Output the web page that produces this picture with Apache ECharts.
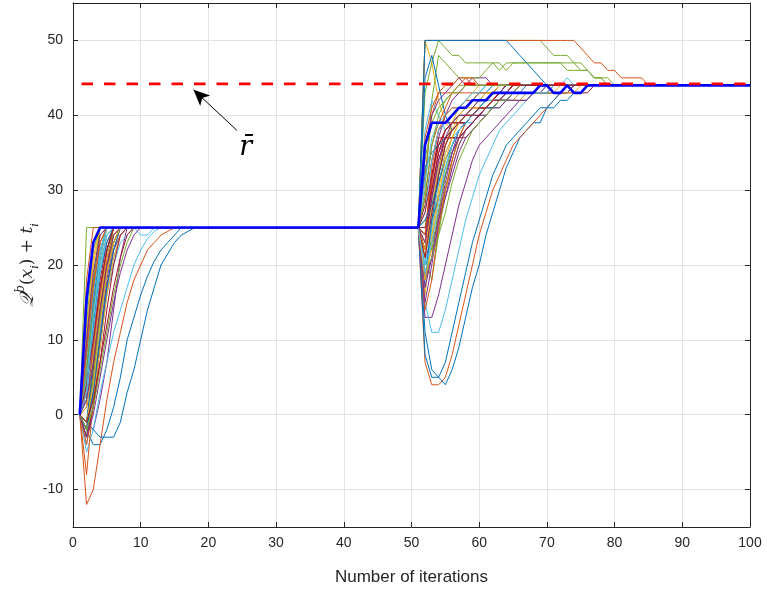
<!DOCTYPE html>
<html><head><meta charset="utf-8">
<script src="https://cdn.jsdelivr.net/npm/echarts@6/dist/echarts.min.js"></script>
<style>html,body{margin:0;padding:0;background:#fff}#c{width:767px;height:592px}</style>
</head><body><div id="c"></div>
<script>
// ---- data ----
const xTicks = [0,10,20,30,40,50,60,70,80,90,100];
const yTicks = [-10,0,10,20,30,40,50];
const rbar = 44.2;
// thick blue line: phase 1 values from x=1, phase 2 values from x=51
const mainPhase1 = [0,15.5,23,25];
const mainPhase2 = [25,36,39,39,39,40,41,41,42,42,42,43,43,43,43,43,43,43,44,44,43,43,44,43,43,44];
// thin lines, phase 1 (from x=1) and phase 2 (from x=51)
const phase1Lines = [
 [0,-2,-4,-4,-2,1,5,10,13,16,18.5,20.5,22,23,24,25],
 [0,-12,-10,-4,2,7,11,15,18,20,22,23,24,24.5,25],
 [0,10,20,25],
 [0,-1,-2,2,7,14,21,25],
 [0,25],
 [0,-5,-2,3,7,11,14,17,20,22,23.5,24.5,25],
 [0,6,16,23,25],
 [0,-1,-2,-3,-3,-3,-1,3,6,10,14,17,20,21.5,23,24,24.5,25],
 [0,-8,2,12,20,25],
 [0,4,13,21,25],
 [0,-2,4,11,18,23,25],
 [0,12,22,25],
 [0,-1,5,11,16,20,23,24,25,24,24,25],
 [0,3,11,18,23,25],
 [0,-3,3,12,19,24,25],
 [0,18,25],
 [0,7,17,23,25],
 [0,1,9,17,22,25],
 [0,-3,5,14,21,25],
 [0,-4,2,9,16,21,24,25],
 [0,9,18,24,25],
 [0,14,23,25],
 [0,2,10,17,22,25],
 [0,-1,6,14,20,24,25],
 [0,5,14,21,25],
 [0,8,18,25],
 [0,-2,4,12,19,23,25],
 [0,2,8,15,21,24,25],
 [0,6,15,22,25],
 [0,-4,1,9,17,22,25],
 [0,11,21,25],
 [0,-1,3,10,17,22,24,25],
 [0,4,12,20,24,25],
 [0,7,16,22,25],
 [0,-2,6,14,20,23,25],
 [0,3,12,19,23,25],
 [0,1,7,13,19,23,25],
 [0,-2,2,9,16,21,24,25],
 [0,10,19,24,25],
 [0,-1,5,13,19,23,25],
 [0,5,13,20,24,25],
 [0,-3,1,7,14,20,24,25],
 [0,-1,7,16,22,25],
 [0,3,9,16,22,25],
 [0,1,8,15,21,24,25],
 [0,-3,0,5,10,15,19,22,24,25],
 [0,6,14,21,25],
 [0,2,11,19,24,25],
 [0,4,10,17,22,25],
 [0,-2,3,10,17,22,25],
 [0,8,17,23,25],
 [0,-1,4,12,19,23,25],
 [0,2,7,14,20,24,25],
 [0,-2,1,6,11,16,20,23,25],
 [0,3,13,21,25],
 [0,-1,2,7,12,17,21,24,25]
];
const phase2Lines = [
 [25,11,6,5,4,6,9,13,17,20,24,27,30,33,35,37,38,39,39,41,41,42,42,43,43,44],
 [25,7,4,4,5,8,12,16,20,24,27,30,32,34,36,37,38,39,40,41,42,43,43,44],
 [25,50,47,42,39,38,39,40,41,41,42,43,43,44],
 [25,13,13,16,20,24,28,31,34,36,37,38,39,40,41,42,42,43,44],
 [25,50,50,50,50,50,50,50,50,50,50,50,50,50,50,50,50,50,50,49,48,48,48,47,46,46,45,45,45,44],
 [25,15,11,11,14,18,22,26,29,32,34,36,38,39,40,41,42,43,44,44,44,44,45,44],
 [25,22,28,33,37,37,37,37,38,39,40,41,42,43,44],
 [25,8,5,5,7,11,15,19,23,26,29,32,34,36,37,38,39,40,41,41,42,43,43,44],
 [25,50,50,50,50,50,50,50,50,50,50,50,50,50,50,50,50,50,50,50,50,50,50,50,49,48,47,47,46,46,45,45,45,45,44],
 [25,22,24,27,30,33,36,38,39,40,41,42,42,43,43,44],
 [25,22,31,37,40,42,43,44,45,45,45,44],
 [25,43,47,50,49,48,48,47,47,47,47,47,47,46,47,47,47,47,47,47,47,47,46,46,46,46,45,45,44],
 [25,20,25,29,33,36,38,39,40,40,41,41,42,42,42,43,43,43,43,44],
 [25,24,32,37,37,37,37,38,39,40,41,42,43,44],
 [25,50,50,50,50,50,50,50,50,50,50,50,50,50,49,48,47,46,45,44],
 [25,32,40,43,43,43,43,43,43,43,43,43,43,44],
 [25,19,22,26,30,34,37,38,39,40,40,41,41,42,42,43,43,43,44],
 [25,21,23,26,29,32,35,37,38,39,40,41,42,43,43,44],
 [25,30,42,48,47,46,45,45,45,45,46,47,46,47,47,47,47,47,47,47,47,47,47,47,47,46,45,45,44],
 [25,17,25,31,35,37,38,39,39,40,40,41,41,42,42,42,43,43,43,43,44],
 [25,28,34,38,39,39,39,39,40,41,41,42,43,43,44],
 [25,45,48,44,40,38,39,40,41,42,43,44],
 [25,23,31,36,38,39,39,40,41,42,42,43,43,44,44],
 [25,16,24,30,35,37,39,40,40,41,41,41,42,42,42,42,43,43,43,43,43,44],
 [25,18,21,25,29,33,36,38,39,40,41,41,42,42,43,43,43,43,43,43,44],
 [25,21,18,24,30,34,37,39,40,41,42,43,44],
 [25,38,42,40,38,39,40,41,42,43,44],
 [25,25,30,35,38,39,40,40,41,41,42,42,42,42,43,43,43,43,43,43,43,43,43,43,43,43,44],
 [25,24,26,29,32,35,37,38,39,40,41,41,42,42,43,43,44],
 [25,14,18,25,30,34,37,39,40,41,42,43,44],
 [25,23,27,32,36,39,41,42,43,44],
 [25,17,21,27,32,35,37,38,39,40,40,41,41,42,42,42,42,43,43,43,43,43,43,44],
 [25,34,39,41,42,43,43,44],
 [25,20,28,33,36,38,39,40,40,41,41,42,42,42,43,43,43,43,44],
 [25,22,29,34,37,37,37,38,39,40,41,42,43,44],
 [25,33,35,36,37,38,39,39,40,41,42,43,43,44],
 [25,29,36,39,41,43,44,45,45,44],
 [25,21,26,32,36,38,39,40,41,41,42,42,43,43,43,43,43,43,44],
 [25,36,40,42,43,44,45,44],
 [25,26,22,27,32,36,38,39,40,41,42,43,44],
 [25,31,37,39,40,41,41,42,42,43,43,44],
 [25,24,30,35,37,38,39,39,40,40,41,42,43,43,44],
 [25,18,26,32,36,38,39,40,40,41,41,42,42,43,43,43,43,43,43,43,43,43,44],
 [25,24,33,38,40,41,41,42,42,43,43,43,44],
 [25,22,28,33,36,38,40,41,41,42,43,43,44],
 [25,15,20,26,31,35,38,39,40,41,41,42,42,42,43,43,43,43,43,44],
 [25,19,21,24,27,31,34,36,38,39,40,41,42,42,43,44],
 [25,27,34,38,39,40,41,42,43,43,44],
 [25,21,27,32,36,38,39,39,40,41,41,42,43,44],
 [25,26,28,31,34,36,38,39,40,41,42,43,43,44,44],
 [25,37,41,43,44,44,45,45,44],
 [25,18,23,29,34,37,39,40,40,41,41,42,42,43,43,43,43,43,43,43,43,43,43,43,44],
 [25,23,29,34,37,39,40,40,41,42,42,43,43,44],
 [25,29,36,40,42,43,44],
 [25,19,23,28,33,36,38,39,40,41,42,42,42,43,43,43,43,43,43,43,44],
 [25,27,32,36,38,39,39,40,40,41,41,42,42,43,44]
];
const lineColors = ['#0072BD','#D95319','#EDB120','#7E2F8E','#77AC30','#4DBEEE','#A2142F'];
const xEnd = 100;
const phase2Start = 51;

function build(p1, p2){
  const d = [];
  p1.forEach((y,k)=>d.push([1+k,y]));
  p2.forEach((y,k)=>d.push([phase2Start+k,y]));
  d.push([xEnd, p2[p2.length-1]]);
  return d;
}

const series = [];
phase1Lines.forEach((p1,i)=>{
  series.push({type:'line', data: build(p1, phase2Lines[i]), symbol:'none', silent:true,
    lineStyle:{width:1, color: lineColors[i%7]}, z:2});
});
series.push({type:'line', data: build(mainPhase1, mainPhase2), symbol:'none', silent:true,
  lineStyle:{width:2.6, color:'#0000FF'}, z:3});
series.push({type:'line', data: [[0,rbar],[xEnd,rbar]], symbol:'none', silent:true, z:4,
  lineStyle:{width:2.6, color:'#FF0000', type:[11.5,11], dashOffset:14},
  markLine:{silent:true, symbol:['none','arrow'], symbolSize:[11,16], animation:false,
    lineStyle:{color:'#000', width:1, type:'solid'}, label:{show:false},
    data:[[{coord:[24.2,38]},{coord:[17.8,43.4]}]]},
  markPoint:{silent:true, symbol:'circle', symbolSize:1, itemStyle:{color:'rgba(0,0,0,0)'},
    label:{show:true, formatter:'r\u0304', position:'inside', color:'#000', fontSize:27, fontStyle:'italic', fontFamily:'DejaVu Serif'},
    data:[{coord:[25.5,35.6]}]}
});

const axCol = '#262626';
const gridCol = '#e3e3e3';
const chart = echarts.init(document.getElementById('c'), null, {renderer:'canvas'});
chart.setOption({
  animation:false,
  backgroundColor:'#fff',
  grid:{left:73, right:17, top:3, bottom:65},
  xAxis:[
    {type:'value', min:0, max:100, interval:10, position:'bottom',
     axisLine:{show:true, onZero:false, lineStyle:{color:axCol, width:1}},
     axisTick:{show:true, inside:true, length:5, lineStyle:{color:axCol}},
     axisLabel:{color:axCol, fontSize:14, margin:9, fontFamily:'Liberation Sans'},
     splitLine:{show:true, lineStyle:{color:gridCol, width:1}},
     name:'Number of iterations', nameLocation:'middle', nameGap:42,
     nameTextStyle:{color:axCol, fontSize:17, fontFamily:'Liberation Sans'}},
    {type:'value', min:0, max:100, interval:10, position:'top',
     axisLine:{show:true, onZero:false, lineStyle:{color:axCol, width:1}},
     axisTick:{show:true, inside:true, length:5, lineStyle:{color:axCol}},
     axisLabel:{show:false}, splitLine:{show:false}}
  ],
  yAxis:[
    {type:'value', min:-15, max:55, position:'left',
     axisLine:{show:true, onZero:false, lineStyle:{color:axCol, width:1}},
     axisTick:{show:true, inside:true, length:5, lineStyle:{color:axCol}, customValues:yTicks},
     axisLabel:{color:axCol, fontSize:14, margin:10, fontFamily:'Liberation Sans', customValues:yTicks},
     splitLine:{show:true, lineStyle:{color:gridCol, width:1}},
     name:'{q|\uD835\uDCAC}{sup|b}{t|(}{it|x}{sub|i}{t|) + }{it|t}{sub|i}',
     nameLocation:'middle', nameGap:32, nameRotate:90, nameMoveOverlap:false,
     nameTextStyle:{color:axCol, rich:{
       q:{fontSize:19, fontFamily:'DejaVu Serif', fontStyle:'italic', color:axCol, lineHeight:26, verticalAlign:'middle'},
       sup:{fontSize:12, fontFamily:'DejaVu Serif', fontStyle:'italic', color:axCol, lineHeight:26, verticalAlign:'top'},
       t:{fontSize:17, fontFamily:'DejaVu Serif', color:axCol, lineHeight:26, verticalAlign:'middle'},
       it:{fontSize:17, fontFamily:'DejaVu Serif', fontStyle:'italic', color:axCol, lineHeight:26, verticalAlign:'middle'},
       sub:{fontSize:11, fontFamily:'DejaVu Serif', fontStyle:'italic', color:axCol, lineHeight:26, verticalAlign:'bottom'}
     }}},
    {type:'value', min:-15, max:55, position:'right',
     axisLine:{show:true, onZero:false, lineStyle:{color:axCol, width:1}},
     axisTick:{show:true, inside:true, length:5, lineStyle:{color:axCol}, customValues:yTicks},
     axisLabel:{show:false}, splitLine:{show:false}}
  ],
  series: series
});
</script></body></html>
